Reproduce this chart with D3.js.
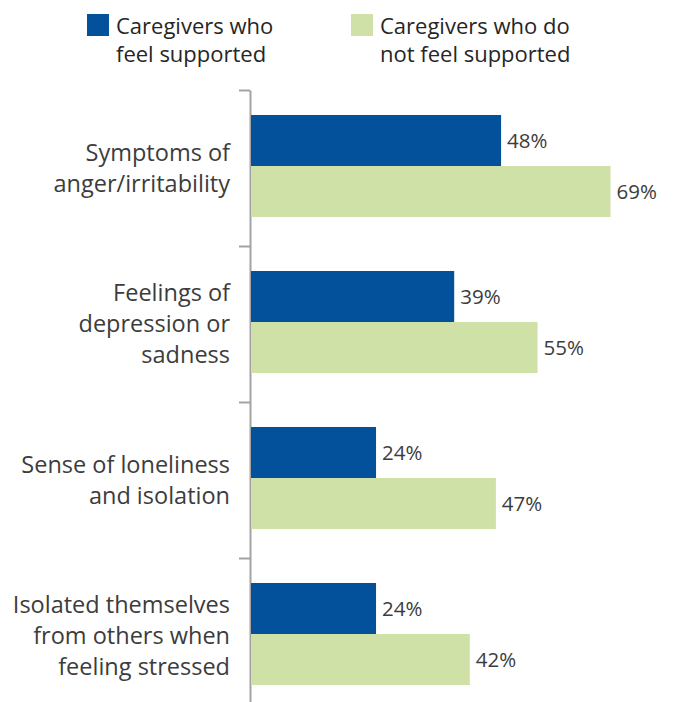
<!DOCTYPE html>
<html>
<head>
<meta charset="utf-8">
<script src="https://d3js.org/d3.v7.min.js"></script>
<style>
  body { margin: 0; background: #fff; }
  svg { display: block; font-family: "Open Sans", "Noto Sans", sans-serif; }
</style>
</head>
<body>
<svg width="673" height="702" class="bar-chart"></svg>

<script>
  // data
  const categories = [
    ["Symptoms of", "anger/irritability"],
    ["Feelings of", "depression or", "sadness"],
    ["Sense of loneliness", "and isolation"],
    ["Isolated themselves", "from others when", "feeling stressed"]
  ];
  const seriesNames = [
    ["Caregivers who", "feel supported"],
    ["Caregivers who do", "not feel supported"]
  ];
  const supported = [48, 39, 24, 24];
  const notSupported = [69, 55, 47, 42];

  const blue = "#03519b";
  const green = "#cfe1a6";
  const textColor = "#3c3c3c";

  const svg = d3.select(".bar-chart");

  const catKeys = categories.map(c => c.join(" "));
  const rows = catKeys.map((k, i) => ({key: k, lines: categories[i], values: [supported[i], notSupported[i]]}));

  // scales
  const x = d3.scaleLinear().domain([0, 100]).range([251, 772]);
  const y = d3.scaleBand().domain(catKeys).range([90, 714]).padding(0);
  const ySub = d3.scaleBand().domain([0, 1]).range([25, 127]).padding(0);
  const yEdge = d3.scaleLinear().domain([0, catKeys.length]).range([90, 714]);
  const colors = [blue, green];

  // axis (ticks sit on band edges)
  const axis = svg.append("g")
    .attr("transform", "translate(250,0)")
    .call(d3.axisLeft(yEdge)
      .tickValues(d3.range(0, catKeys.length + 1))
      .tickSize(11)
      .tickSizeOuter(0)
      .tickFormat(""));
  axis.selectAll("path, line")
    .attr("stroke", "#a3a3a3")
    .attr("stroke-width", 2);

  // bars
  const groups = svg.selectAll(".group")
    .data(rows)
    .enter().append("g")
    .attr("class", "group")
    .attr("transform", d => "translate(0," + y(d.key) + ")");

  groups.selectAll("rect")
    .data(d => d.values)
    .enter().append("rect")
    .attr("x", x(0))
    .attr("y", (v, i) => ySub(i))
    .attr("width", v => x(v) - x(0))
    .attr("height", ySub.bandwidth())
    .attr("fill", (v, i) => colors[i]);

  // value labels
  groups.selectAll(".val")
    .data(d => d.values)
    .enter().append("text")
    .attr("class", "val")
    .attr("x", v => x(v) + 6)
    .attr("y", (v, i) => ySub(i) + ySub.bandwidth() / 2)
    .attr("dy", "0.35em")
    .style("font-size", "20.5px")
    .style("fill", textColor)
    .text(v => v + "%");

  // category labels
  const lineH = 31;
  groups.append("text")
    .attr("text-anchor", "end")
    .style("font-size", "23.5px")
    .style("fill", textColor)
    .selectAll("tspan")
    .data(d => d.lines.map((t, i) => ({t: t, i: i, n: d.lines.length})))
    .enter().append("tspan")
    .attr("x", 230)
    .attr("y", d => y.bandwidth() / 2 + (d.i - (d.n - 1) / 2) * lineH)
    .attr("dy", "0.35em")
    .text(d => d.t);

  // legend
  const legendX = [87, 351];
  const legend = svg.selectAll(".legend")
    .data(seriesNames)
    .enter().append("g")
    .attr("class", "legend")
    .attr("transform", (d, i) => "translate(" + legendX[i] + ",14)");

  legend.append("rect")
    .attr("width", 22)
    .attr("height", 22)
    .attr("fill", (d, i) => colors[i]);

  legend.append("text")
    .style("font-size", "22px")
    .style("fill", "#262626")
    .selectAll("tspan")
    .data(d => d)
    .enter().append("tspan")
    .attr("x", 29)
    .attr("y", (t, i) => 19.5 + i * 28.5)
    .text(t => t);
</script>
</body>
</html>
